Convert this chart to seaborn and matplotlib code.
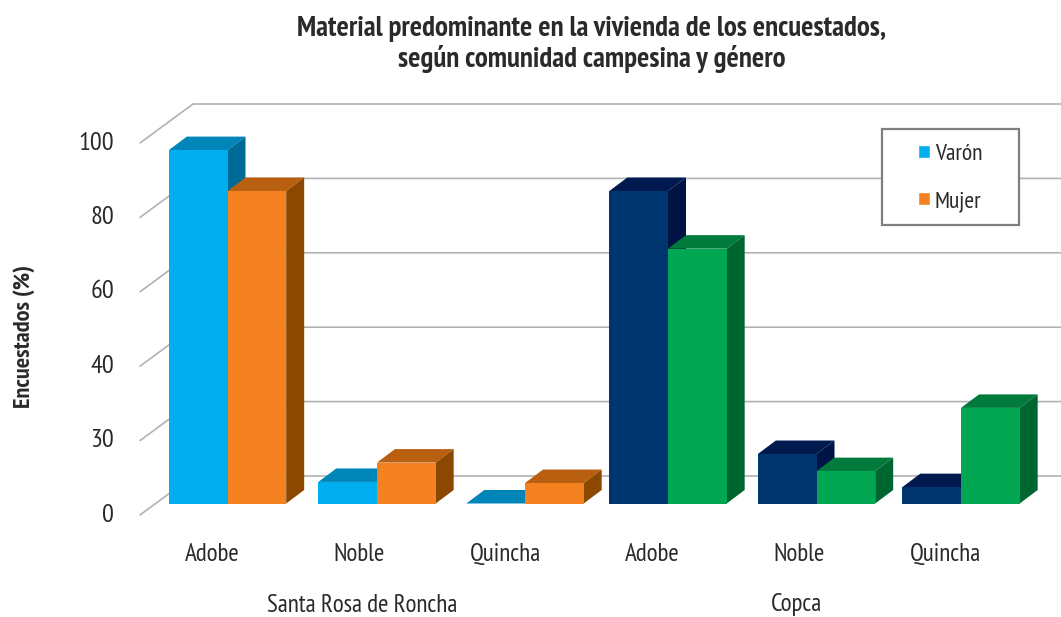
#!/usr/bin/env python3
"""Material predominante en la vivienda: pseudo-3D grouped bars."""
import matplotlib; matplotlib.use("Agg")
import matplotlib.pyplot as plt
from matplotlib.colors import to_hex
from matplotlib.font_manager import fontManager
from matplotlib.patches import Polygon, Rectangle
from matplotlib.transforms import Affine2D
import pandas as pd
import seaborn as sns

W, H = 1061, 617

materiales = ["Adobe", "Noble", "Quincha"]
comunidades = ["Santa Rosa de Roncha", "Copca"]
generos = ["Varón", "Mujer"]
santa_rosa_varon = [95, 5.8, 0]
santa_rosa_mujer = [84, 11, 5.5]
copca_varon = [84, 13.3, 4.4]
copca_mujer = [68.5, 8.7, 25.7]
tick_labels_y = ["0", "30", "40", "60", "80", "100"]

# front, top, side
SHADES = {
    "#00aeef": ("#0085b8", "#006a97"),
    "#f58220": ("#b85f10", "#8c4800"),
    "#003670": ("#00194f", "#001345"),
    "#00a651": ("#007b3c", "#00662f"),
}
TXT = "#2b2a29"
# narrow face if the machine has one, otherwise the plain ones
have = {f.name for f in fontManager.ttflist}
FONT = [f for f in ["PT Sans Narrow", "Roboto", "DejaVu Sans"] if f in have]


def build_frame(comunidad, varon, mujer):
    rows = []
    for genero, vals in zip(generos, [varon, mujer]):
        for mat, v in zip(materiales, vals):
            rows.append({"clave": f"{comunidad}-{mat}", "genero": genero, "pct": v})
    return pd.DataFrame(rows)


sns.set_style("white")
plt.rcParams["font.family"] = FONT

fig = plt.figure(figsize=(W / 100, H / 100), dpi=100)
# axes spans px x 140..1061, y 100..515; bars stand on y=503.5, 3.72 px per unit
ax = fig.add_axes([140 / W, 1 - 515 / H, (W - 140) / W, 415 / H])
px = Affine2D().scale(1 / W, -1 / H).translate(0, 1) + fig.transFigure
GROUP_PX, UNIT_PX, BASE_PX = 146.7, 3.72, 503.5

order = [f"{c}-{m}" for c in comunidades for m in materiales]
sns.barplot(data=build_frame(comunidades[0], santa_rosa_varon, santa_rosa_mujer),
            x="clave", y="pct", hue="genero", order=order, hue_order=generos,
            palette=["#00aeef", "#f58220"], width=0.8, gap=0, saturation=1, ax=ax)
sns.barplot(data=build_frame(comunidades[1], copca_varon, copca_mujer),
            x="clave", y="pct", hue="genero", order=order, hue_order=generos,
            palette=["#003670", "#00a651"], width=0.8, gap=0, saturation=1, ax=ax, legend=False)

ax.set_xlim((140 - 227.5) / GROUP_PX, (W - 227.5) / GROUP_PX)
ax.set_ylim((BASE_PX - 515) / UNIT_PX, (BASE_PX - 100) / UNIT_PX)
sns.despine(ax=ax, left=True, bottom=True)

# groups in the original are not quite evenly spaced
nudge_px = [0, 2.8, 4.1, 0.4, 2.2, 0]
dx, dy = 18 / GROUP_PX, 13.5 / UNIT_PX
for bar in list(ax.patches):
    front = to_hex(bar.get_facecolor())
    top, side = SHADES[front]
    group = round(bar.get_x() + bar.get_width() / 2)
    bar.set_x(bar.get_x() + nudge_px[group] / GROUP_PX)
    x0, w, h = bar.get_x(), bar.get_width(), bar.get_height()
    z = 5 if front in ("#f58220", "#00a651") else 3
    bar.set_linewidth(0)
    bar.set_zorder(z + 0.5)
    ax.add_patch(Polygon([(x0, h), (x0 + w, h), (x0 + w + dx, h + dy), (x0 + dx, h + dy)],
                         facecolor=top, edgecolor="none", zorder=z))
    ax.add_patch(Polygon([(x0 + w, 0), (x0 + w + dx, dy), (x0 + w + dx, h + dy), (x0 + w, h)],
                         facecolor=side, edgecolor="none", zorder=z))

# back wall lines and the short floor-side stubs
for k in range(6):
    y0 = 515 - 74.4 * k
    ax.plot([140, 193, W], [y0, y0 - 39, y0 - 39], color="#b2b2b2", lw=1.2,
            transform=px, zorder=1, clip_on=False)

ax.set_xticks([(212 - 227.5) / GROUP_PX + i for i in range(6)])
ax.set_xticklabels(materiales * 2, fontsize=18, color=TXT)
ax.set_yticks([(BASE_PX - 512.5) / UNIT_PX + 20 * k for k in range(6)])
ax.set_yticklabels(tick_labels_y, fontsize=19, color=TXT)
ax.tick_params(axis="x", length=0, pad=20.5)
ax.tick_params(axis="y", length=0, pad=18.7)
ax.set_xlabel("")
ax.set_ylabel("")

fig.text(24 / W, 1 - 337 / H, "Encuestados (%)", rotation=90, ha="center", va="center",
         fontsize=17.5, fontweight="bold", color=TXT)
fig.text(592 / W, 1 - 29 / H, "Material predominante en la vivienda de los encuestados,",
         ha="center", va="center", fontsize=20.8, fontweight="bold", color=TXT)
fig.text(592 / W, 1 - 59 / H, "según comunidad campesina y género",
         ha="center", va="center", fontsize=20.8, fontweight="bold", color=TXT)
for name, cx in zip(comunidades, [362, 797]):
    fig.text(cx / W, 1 - 605 / H, name, ha="center", va="center", fontsize=18, color=TXT)

ax.add_patch(Rectangle((882, 129), 137, 96, transform=px, facecolor="white",
                       edgecolor="#7f7f7f", lw=1.6, zorder=8, clip_on=False))
sns.move_legend(ax, "center left", bbox_to_anchor=(918 / W, 1 - 178 / H),
                bbox_transform=fig.transFigure, title=None, frameon=False,
                fontsize=17, handlelength=0.5, handleheight=0.5,
                handletextpad=0.21, labelspacing=1.11, borderpad=0, borderaxespad=0)
ax.get_legend().set_zorder(9)
for t in ax.get_legend().get_texts():
    t.set_color(TXT)

fig.savefig("out.png", dpi=100)
